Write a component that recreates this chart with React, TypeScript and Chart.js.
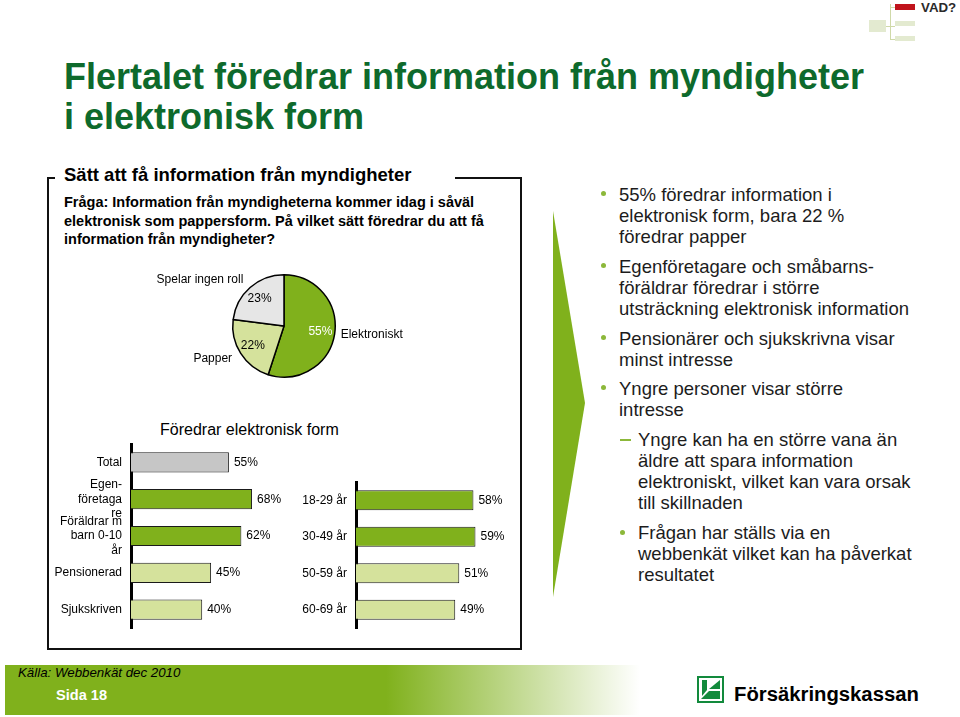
import React, { useEffect, useRef } from 'react';
import { Chart, registerables } from 'chart.js';

Chart.register(...registerables);

const FONT = "'Liberation Sans', Arial, Helvetica, sans-serif";

// ---------- data ----------
const pieLabels = ['Elektroniskt', 'Papper', 'Spelar ingen roll'];
const pieValues = [55, 22, 23];
const pieColors = ['#80b11c', '#d5e29c', '#e6e6e6'];

const groupLabels = [['Total'], ['Egen-', 'företaga', 're'], ['Föräldrar m', 'barn 0-10', 'år'], ['Pensionerad'], ['Sjukskriven']];
const groupValues = [55, 68, 62, 45, 40];
const groupColors = ['#c6c6c6', '#80b11c', '#80b11c', '#d5e29c', '#d5e29c'];

const ageLabels = ['18-29 år', '30-49 år', '50-59 år', '60-69 år'];
const ageValues = [58, 59, 51, 49];
const ageColors = ['#80b11c', '#80b11c', '#d5e29c', '#d5e29c'];

// ---------- plugins ----------
const valueLabelPlugin = {
  id: 'valueLabels',
  afterDatasetsDraw(chart: any) {
    const ctx = chart.ctx;
    const meta = chart.getDatasetMeta(0);
    const data = chart.data.datasets[0].data;
    ctx.save();
    ctx.font = `12px ${FONT}`;
    ctx.fillStyle = '#000';
    ctx.textBaseline = 'middle';
    ctx.textAlign = 'left';
    meta.data.forEach((bar: any, i: number) => {
      ctx.fillText(`${data[i]}%`, bar.x + 5, bar.y);
    });
    ctx.restore();
  },
};

const pieLabelPlugin = {
  id: 'pieLabels',
  afterDatasetsDraw(chart: any) {
    const ctx = chart.ctx;
    const meta = chart.getDatasetMeta(0);
    const data = chart.data.datasets[0].data;
    const labels = chart.data.labels;
    ctx.save();
    ctx.font = `12px ${FONT}`;
    ctx.textBaseline = 'middle';
    meta.data.forEach((arc: any, i: number) => {
      const p = arc.getProps(['x', 'y', 'startAngle', 'endAngle', 'outerRadius'], true);
      const mid = (p.startAngle + p.endAngle) / 2;
      const cx = Math.cos(mid);
      const cy = Math.sin(mid);
      ctx.textAlign = 'center';
      ctx.fillStyle = i === 0 ? '#ffffff' : '#000000';
      ctx.fillText(`${data[i]}%`, p.x + cx * p.outerRadius * 0.72, p.y + cy * p.outerRadius * 0.72);
      const f = cx > 0 ? 1.12 : 1.2;
      ctx.fillStyle = '#000000';
      ctx.textAlign = cx > 0 ? 'left' : 'right';
      ctx.fillText(labels[i], p.x + cx * p.outerRadius * f, p.y + cy * p.outerRadius * f);
    });
    ctx.restore();
  },
};

function ChartCanvas({ config, left, top, width, height }: any) {
  const ref = useRef<HTMLCanvasElement>(null);
  useEffect(() => {
    const chart = new Chart(ref.current as HTMLCanvasElement, config);
    return () => chart.destroy();
  }, []);
  return (
    <canvas
      ref={ref}
      width={width}
      height={height}
      style={{ position: 'absolute', left, top, width, height }}
    />
  );
}

function barConfig(labels: any[], values: number[], colors: string[], max: number, yWidth: number) {
  return {
    type: 'bar',
    data: {
      labels,
      datasets: [
        {
          data: values,
          backgroundColor: colors,
          borderColor: '#1a1a1a',
          borderWidth: 1,
          barPercentage: 0.55,
          categoryPercentage: 1,
        },
      ],
    },
    options: {
      indexAxis: 'y',
      responsive: false,
      animation: false,
      devicePixelRatio: 1,
      layout: { padding: { top: 4, bottom: 2, left: 0, right: 0 } },
      plugins: { legend: { display: false }, tooltip: { enabled: false } },
      scales: {
        x: { display: false, min: 0, max },
        y: {
          offset: true,
          grid: { display: false, drawTicks: false },
          border: { display: true, color: '#000', width: 3 },
          ticks: {
            color: '#000',
            padding: 9,
            autoSkip: false,
            font: { family: FONT, size: 12, lineHeight: 1.2 },
          },
          afterFit(scale: any) {
            scale.width = yWidth;
            scale.paddingTop = 0;
            scale.paddingBottom = 0;
          },
        },
      },
    },
    plugins: [valueLabelPlugin],
  };
}

const pieConfig = {
  type: 'pie',
  data: {
    labels: pieLabels,
    datasets: [
      {
        data: pieValues,
        backgroundColor: pieColors,
        borderColor: '#000',
        borderWidth: 1.5,
      },
    ],
  },
  options: {
    responsive: false,
    animation: false,
    devicePixelRatio: 1,
    layout: { padding: { left: 82, right: 94, top: 12, bottom: 14 } },
    plugins: { legend: { display: false }, tooltip: { enabled: false } },
  },
  plugins: [pieLabelPlugin],
};

const leftBars = barConfig(groupLabels, groupValues, groupColors, 100, 80);
const rightBars = barConfig(ageLabels, ageValues, ageColors, 80, 80);

// ---------- layout helpers ----------
const abs = (left: number, top: number, extra: any = {}) => ({ position: 'absolute' as const, left, top, ...extra });

const bulletStyle = { fontFamily: FONT, fontSize: 18.5, lineHeight: '21px', color: '#1c1c1c', whiteSpace: 'nowrap' as const };

function Dot({ x, y }: { x: number; y: number }) {
  return <div style={abs(x - 2.5, y - 2.5, { width: 5, height: 5, borderRadius: 3, background: '#8cb83a' })} />;
}

export default function App() {
  return (
    <div style={{ position: 'absolute', left: 0, top: 0, width: 960, height: 717, background: '#fff', overflow: 'hidden', fontFamily: FONT }}>
      {/* top-right decoration */}
      <div style={abs(890, 4, { width: 1, height: 36, background: '#cfd9a8' })} />
      <div style={abs(886, 26, { width: 9, height: 1, background: '#cfd9a8' })} />
      <div style={abs(890, 7, { width: 5, height: 1, background: '#cfd9a8' })} />
      <div style={abs(890, 39, { width: 5, height: 1, background: '#cfd9a8' })} />
      <div style={abs(895, 4, { width: 20, height: 6, background: '#c0141c' })} />
      <div style={abs(869, 20, { width: 17, height: 12, background: '#e3ead0' })} />
      <div style={abs(895, 21, { width: 20, height: 5, background: '#e3ead0' })} />
      <div style={abs(895, 36, { width: 20, height: 5, background: '#e3ead0' })} />
      <div style={abs(921, 0, { fontSize: 13.3, fontWeight: 'bold', color: '#2a2a2a', lineHeight: '16px' })}>VAD?</div>

      {/* main title */}
      <div style={abs(64, 57, { fontSize: 36, fontWeight: 'bold', color: '#0e6a2c', lineHeight: '40px', whiteSpace: 'nowrap' })}>
        Flertalet föredrar information från myndigheter
        <br />i elektronisk form
      </div>

      {/* frame */}
      <div style={abs(47, 177, { width: 475, height: 473, border: '2px solid #111', boxSizing: 'border-box' })} />
      <div style={abs(55, 168, { width: 400, height: 16, background: '#fff' })} />
      <div style={abs(64, 164, { fontSize: 18.5, fontWeight: 'bold', color: '#000', lineHeight: '22px', whiteSpace: 'nowrap' })}>
        Sätt att få information från myndigheter
      </div>
      <div style={abs(64, 193, { fontSize: 14.5, fontWeight: 'bold', color: '#000', lineHeight: '18.5px', whiteSpace: 'nowrap' })}>
        Fråga: Information från myndigheterna kommer idag i såväl
        <br />
        elektronisk som pappersform. På vilket sätt föredrar du att få
        <br />
        information från myndigheter?
      </div>

      <ChartCanvas config={pieConfig} left={150} top={262} width={280} height={130} />

      <div style={abs(160, 420, { fontSize: 16, color: '#000', lineHeight: '20px', whiteSpace: 'nowrap' })}>Föredrar elektronisk form</div>

      <ChartCanvas config={leftBars} left={51} top={440} width={258} height={190} />
      <ChartCanvas config={rightBars} left={276} top={478} width={242} height={152} />

      {/* arrow */}
      <svg style={abs(540, 200)} width={60} height={410}>
        <polygon points="13,11 45,203 13,397" fill="#80b11c" />
      </svg>

      {/* bullets */}
      <Dot x={603} y={193} />
      <div style={abs(619, 183.5, bulletStyle)}>
        55% föredrar information i<br />elektronisk form, bara 22 %<br />föredrar papper
      </div>
      <Dot x={603} y={265} />
      <div style={abs(619, 256, bulletStyle)}>
        Egenföretagare och småbarns-<br />föräldrar föredrar i större<br />utsträckning elektronisk information
      </div>
      <Dot x={603} y={337} />
      <div style={abs(619, 328, bulletStyle)}>
        Pensionärer och sjukskrivna visar<br />minst intresse
      </div>
      <Dot x={603} y={387} />
      <div style={abs(619, 378, bulletStyle)}>
        Yngre personer visar större<br />intresse
      </div>
      <div style={abs(620, 439, { width: 11, height: 2, background: '#8cb83a' })} />
      <div style={abs(638, 429, bulletStyle)}>
        Yngre kan ha en större vana än<br />äldre att spara information<br />elektroniskt, vilket kan vara orsak<br />till skillnaden
      </div>
      <Dot x={622} y={532} />
      <div style={abs(638, 522, bulletStyle)}>
        Frågan har ställs via en<br />webbenkät vilket kan ha påverkat<br />resultatet
      </div>

      {/* footer */}
      <div
        style={abs(5, 665, {
          width: 635,
          height: 50,
          background: 'linear-gradient(to right, #80b11c 0%, #80b11c 60%, #ffffff 100%)',
        })}
      />
      <div style={abs(18, 665, { fontSize: 13.3, fontStyle: 'italic', color: '#000', lineHeight: '16px', whiteSpace: 'nowrap' })}>
        Källa: Webbenkät dec 2010
      </div>
      <div style={abs(56, 686, { fontSize: 14.6, fontWeight: 'bold', color: '#fff', lineHeight: '18px' })}>Sida 18</div>

      {/* logo */}
      <svg style={abs(697, 676)} width={27} height={27}>
        <rect x={1} y={1} width={25} height={25} fill="#fff" stroke="#128a3c" strokeWidth={2} />
        <polygon points="5,4 10,4 10,14 5,20" fill="#128a3c" />
        <polygon points="12,13 23,4 23,13" fill="#128a3c" />
        <polygon points="4,23 12,15 23,15 23,23" fill="#128a3c" />
      </svg>
      <div style={abs(734, 682, { fontSize: 20.3, fontWeight: 'bold', color: '#000', lineHeight: '24px', whiteSpace: 'nowrap' })}>
        Försäkringskassan
      </div>
    </div>
  );
}
